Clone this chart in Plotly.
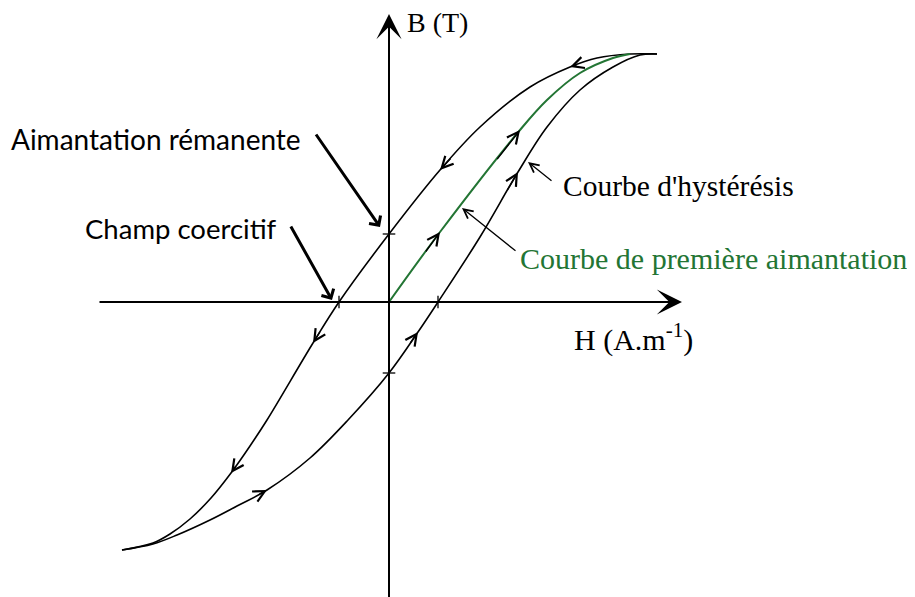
import plotly.graph_objects as go

# Champ H et induction B en unités arbitraires (origine au croisement des axes)
h_desc = [268, 241, 208, 181, 141, 91, 51, 0, -50, -76, -122, -139, -158, -178, -199, -219, -236, -267]
b_desc = [248, 248, 244, 235, 215, 175, 132, 68, 0, -41, -118, -144, -171, -196, -217, -232, -241, -248]

h_asc = [-267, -236, -212, -179, -152, -122, -79, -41, 0, 29, 49, 91, 129, 158, 191, 224, 251, 268]
b_asc = [-248, -242, -233, -218, -204, -188, -156, -118, -71, -30, 0, 65, 130, 175, 212, 235, 247, 248]

h_first = [0, 51, 131, 158, 191, 224, 241]
b_first = [0, 70, 172, 202, 229, 244, 248]

# indices des flèches de sens de parcours
desc_arrows = [3, 6, 9, 12]
asc_arrows = [5, 9, 12]
first_arrows = [1, 2]

# points remarquables : rémanence et champ coercitif
rem_h = [0, 0]
rem_b = [68, -71]
coer_h = [-50, 49]
coer_b = [0, 0]

GREEN = "#237534"
SERIF = "Liberation Serif"
SANS = "Lato"

fig = go.Figure()

curve = dict(mode="lines", line_shape="spline", hoverinfo="skip", showlegend=False)
fig.add_trace(go.Scatter(x=h_desc, y=b_desc, line=dict(color="black", width=1.6), **curve))
fig.add_trace(go.Scatter(x=h_asc, y=b_asc, line=dict(color="black", width=1.6), **curve))
fig.add_trace(go.Scatter(x=h_first, y=b_first, line=dict(color=GREEN, width=2), **curve))

fig.add_trace(go.Scatter(
    x=rem_h, y=rem_b, mode="markers", hoverinfo="skip", showlegend=False,
    marker=dict(symbol="line-ew", size=9, line=dict(color="black", width=1.3)),
))
fig.add_trace(go.Scatter(
    x=coer_h, y=coer_b, mode="markers", hoverinfo="skip", showlegend=False,
    marker=dict(symbol="line-ns", size=9, line=dict(color="black", width=1.3)),
))


def _flow_arrow(hs, bs, i, color):
    # petite flèche posée sur la courbe, orientée dans le sens de parcours
    tx = hs[i] + 0.3 * (hs[i - 1] - hs[i])
    ty = bs[i] + 0.3 * (bs[i - 1] - bs[i])
    return dict(
        x=hs[i], y=bs[i], ax=tx, ay=ty, xref="x", yref="y", axref="x", ayref="y",
        text="", showarrow=True, arrowhead=5, arrowsize=1.6, arrowwidth=1.4,
        arrowcolor=color, standoff=0,
    )


annotations = []
for i in desc_arrows:
    annotations.append(_flow_arrow(h_desc, b_desc, i, "black"))
for i in asc_arrows:
    annotations.append(_flow_arrow(h_asc, b_asc, i, "black"))
for i in first_arrows:
    annotations.append(_flow_arrow(h_first, b_first, i, "black"))

# axes avec flèches
axis_arrow = dict(xref="x", yref="y", axref="x", ayref="y", text="", showarrow=True,
                  arrowhead=3, arrowsize=2.1, arrowwidth=2, arrowcolor="black", standoff=0)
annotations.append(dict(x=293, y=0, ax=-291, ay=0, **axis_arrow))
annotations.append(dict(x=0, y=288, ax=0, ay=-300, **axis_arrow))

# flèches de légende
annotations += [
    dict(x=-9, y=75, ax=-74, ay=169, xref="x", yref="y", axref="x", ayref="y", text="",
         showarrow=True, arrowhead=4, arrowsize=0.9, arrowwidth=3, arrowcolor="black"),
    dict(x=-57, y=2, ax=-99, ay=77, xref="x", yref="y", axref="x", ayref="y", text="",
         showarrow=True, arrowhead=4, arrowsize=0.9, arrowwidth=3, arrowcolor="black"),
    dict(x=139, y=140, ax=164, ay=120, xref="x", yref="y", axref="x", ayref="y", text="",
         showarrow=True, arrowhead=5, arrowsize=1.4, arrowwidth=1.3, arrowcolor="black"),
    dict(x=73, y=94, ax=128, ay=50, xref="x", yref="y", axref="x", ayref="y", text="",
         showarrow=True, arrowhead=5, arrowsize=1.4, arrowwidth=1.3, arrowcolor="black"),
]

# textes
labels = [
    ("B (T)", 16, 280, SERIF, 28, "black"),
    ("H (A.m<sup>-1</sup>)", 183, -35, SERIF, 30, "black"),
    ("Courbe d'hystérésis", 172, 116, SERIF, 29.5, "black"),
    ("Courbe de première aimantation", 129, 44, SERIF, 30, GREEN),
    ("Aimantation rémanente", -380, 163, SANS, 28, "black"),
    ("Champ coercitif", -306, 74, SANS, 27.5, "black"),
]
for text, x, y, family, size, color in labels:
    annotations.append(dict(
        x=x, y=y, xref="x", yref="y", text=text, showarrow=False,
        xanchor="left", yanchor="middle", font=dict(family=family, size=size, color=color),
    ))

# la page ajoute une marge de 8 px autour de la figure
fig.update_layout(
    width=907,
    height=589,
    margin=dict(l=0, r=0, t=0, b=0),
    plot_bgcolor="white",
    paper_bgcolor="white",
    annotations=annotations,
    showlegend=False,
)
fig.update_xaxes(range=[-381, 526], visible=False, fixedrange=True)
fig.update_yaxes(range=[-295, 294], visible=False, fixedrange=True)

fig.write_html("out.html", config={"displayModeBar": False})
